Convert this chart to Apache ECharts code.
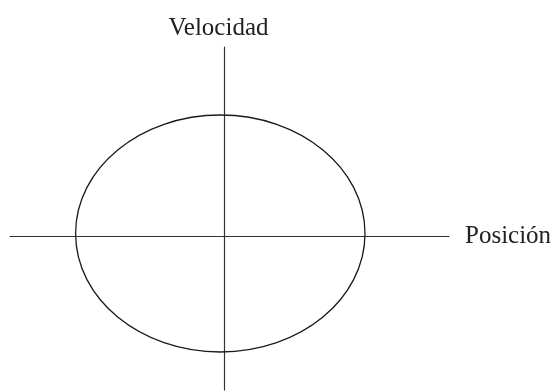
<!DOCTYPE html>
<html>
<head>
<meta charset="utf-8">
<title>Velocidad / Posición</title>
<script src="https://cdn.jsdelivr.net/npm/echarts@6/dist/echarts.min.js"></script>
<style>
  html, body { margin: 0; padding: 0; background: #fff; }
  #phase { width: 555px; height: 391px; }
</style>
</head>
<body>
<div id="phase"></div>
<script>
// datos (unidades arbitrarias, origen en el cruce de ejes)
var axisNames = ['Posición', 'Velocidad'];
var xRange = [-2.14, 2.25];
var yRange = [-1.54, 1.89];
// elipse: [centro x, centro y, semieje x, semieje y]
var ellipseData = [[-0.037, 0.025, 1.447, 1.185]];

(function () {
  // 1.iniciar la instancia
  var myChart = echarts.init(document.getElementById('phase'));

  var nameStyle = {
    fontFamily: '"Liberation Serif", "Times New Roman", serif',
    fontSize: 25,
    color: '#222'
  };

  // 2.opciones
  var option = {
    animation: false,
    grid: {
      top: 47,
      bottom: 1,
      left: 10,
      right: 106
    },
    xAxis: {
      type: 'value',
      min: xRange[0],
      max: xRange[1],
      name: axisNames[0],
      nameLocation: 'end',
      nameGap: 16,
      nameTextStyle: Object.assign({ padding: [0, 0, 20, 0] }, nameStyle),
      axisLine: { onZero: true, lineStyle: { color: '#333', width: 1.2 } },
      axisTick: { show: false },
      axisLabel: { show: false },
      splitLine: { show: false }
    },
    yAxis: {
      type: 'value',
      min: yRange[0],
      max: yRange[1],
      name: axisNames[1],
      nameLocation: 'end',
      nameGap: 6,
      nameTextStyle: Object.assign({ padding: [0, 11, 0, 0] }, nameStyle),
      axisLine: { onZero: true, lineStyle: { color: '#333', width: 1.2 } },
      axisTick: { show: false },
      axisLabel: { show: false },
      splitLine: { show: false }
    },
    series: [{
      type: 'custom',
      data: ellipseData,
      renderItem: function (params, api) {
        var c = api.coord([api.value(0), api.value(1)]);
        var r = api.size([api.value(2), api.value(3)]);
        return {
          type: 'ellipse',
          shape: { cx: c[0], cy: c[1], rx: r[0], ry: r[1] },
          style: { fill: null, stroke: '#1a1a1a', lineWidth: 1.3 }
        };
      }
    }]
  };

  // 3.aplicar
  myChart.setOption(option);
  window.addEventListener('resize', function () {
    myChart.resize();
  });
})();
</script>
</body>
</html>
